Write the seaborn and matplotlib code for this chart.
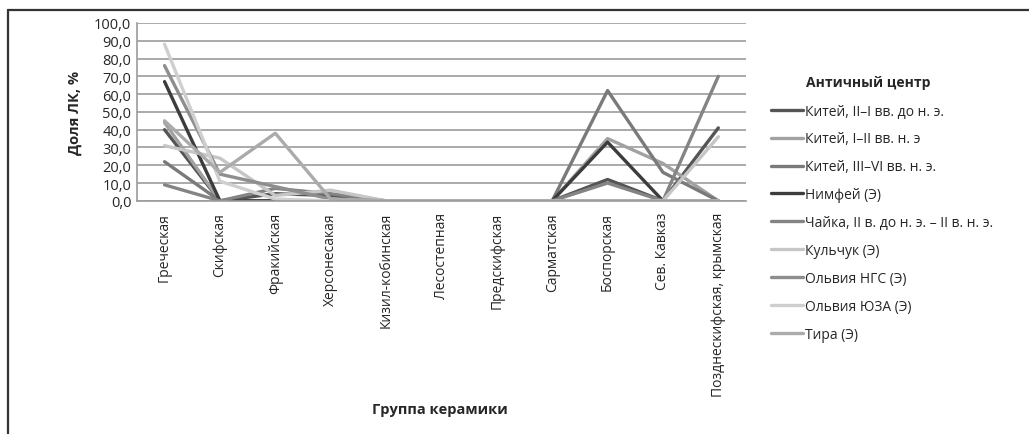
import numpy as np
import pandas as pd
import matplotlib
matplotlib.use("Agg")
import matplotlib.pyplot as plt
import seaborn as sns
from matplotlib.lines import Line2D
from matplotlib.ticker import FuncFormatter

# ---------- data ---------- #
categories = ["Греческая", "Скифская", "Фракийская", "Херсонесакая",
              "Кизил-кобинская", "Лесостепная", "Предскифская", "Сарматская",
              "Боспорская", "Сев. Кавказ", "Позднескифская, крымская"]

series_names = ["Китей, II–I вв. до н. э.", "Китей, I–II вв. н. э",
                "Китей, III–VI вв. н. э.", "Нимфей (Э)",
                "Чайка, II в. до н. э. – II в. н. э.", "Кульчук (Э)",
                "Ольвия НГС (Э)", "Ольвия ЮЗА (Э)", "Тира (Э)"]

kitei_1 = [40, 0, 4, 3, 0, 0, 0, 0, 12, 0, 41]
kitei_2 = [44, 0, 0, 0, 0, 0, 0, 0, 35, 21, 0]
kitei_3 = [22, 0, 0, 0, 0, 0, 0, 0, 62, 16, 0]
nimfei = [67, 0, 0, 0, 0, 0, 0, 0, 33, 0, 0]
chaika = [9, 0, 7, 4, 0, 0, 0, 0, 10, 0, 70]
kulchuk = [31, 24, 3, 6, 0, 0, 0, 0, 0, 0, 36]
olbia_ngs = [76, 15, 8, 1, 0, 0, 0, 0, 0, 0, 0]
olbia_yuza = [88, 11, 1, 0, 0, 0, 0, 0, 0, 0, 0]
tira = [45, 16, 38, 1, 0, 0, 0, 0, 0, 0, 0]

all_values = [kitei_1, kitei_2, kitei_3, nimfei, chaika,
              kulchuk, olbia_ngs, olbia_yuza, tira]

colors = ["#555555", "#a2a2a2", "#7a7a7a", "#3c3c3c", "#848484",
          "#c6c6c6", "#8e8e8e", "#cfcfcf", "#ababab"]

rows = []
for name, vals in zip(series_names, all_values):
    for cat, v in zip(categories, vals):
        rows.append({"Группа керамики": cat, "Доля ЛК, %": v, "Античный центр": name})
df = pd.DataFrame(rows)

# ---------- plot ---------- #
sns.set_style("white")
plt.rcParams['font.family'] = ['Open Sans', 'DejaVu Sans']

fig = plt.figure(figsize=(10.29, 4.35), dpi=100)
ax = fig.add_axes([0.133, 0.536, 0.592, 0.409])

sns.lineplot(data=df, x="Группа керамики", y="Доля ЛК, %", hue="Античный центр",
             hue_order=series_names, palette=dict(zip(series_names, colors)),
             sort=False, linewidth=2.4, ax=ax, legend=True)

ax.set_ylim(0, 100)
ax.set_xlim(-0.5, len(categories) - 0.5)
ax.set_yticks(np.arange(0, 101, 10))
ax.yaxis.set_major_formatter(FuncFormatter(lambda v, p: f"{v:.1f}".replace(".", ",")))
ax.grid(axis="y", color="#9c9c9c", linewidth=1.2)
ax.set_axisbelow(True)
for s in ["top", "right"]:
    ax.spines[s].set_visible(False)
for s in ["left", "bottom"]:
    ax.spines[s].set_color("#9c9c9c")
    ax.spines[s].set_linewidth(1.2)
ax.tick_params(axis="y", length=0, labelsize=10.5, pad=4)
ax.tick_params(axis="x", length=0, labelsize=10, pad=8)
ax.set_xticks(range(len(categories)))
ax.set_xticklabels(categories, rotation=90, fontsize=10)

ax.set_xlabel("")
ax.set_ylabel("Доля ЛК, %", fontsize=10.5, fontweight="bold", labelpad=9)
fig.text(440 / 1029, 1 - 410 / 435, "Группа керамики", ha="center", va="center",
         fontsize=10.5, fontweight="bold")

handles, labels = ax.get_legend_handles_labels()
ax.legend(handles, labels, loc="upper left", bbox_to_anchor=(765 / 1029, 1 - 99 / 435),
          bbox_transform=fig.transFigure, frameon=False, fontsize=10,
          handlelength=2.3, handletextpad=0.15, labelspacing=0.93, borderaxespad=0)
fig.text(806 / 1029, 1 - 83 / 435, "Античный центр", ha="left", va="center",
         fontsize=10, fontweight="bold")

# outer chart frame (cropped)
fig.add_artist(Line2D([8 / 1029, 8 / 1029], [0, 1 - 11 / 435], transform=fig.transFigure,
                      color="#333333", linewidth=1.6))
fig.add_artist(Line2D([8 / 1029, 1], [1 - 11 / 435, 1 - 11 / 435], transform=fig.transFigure,
                      color="#333333", linewidth=1.6))

fig.savefig("out.png", dpi=100)
